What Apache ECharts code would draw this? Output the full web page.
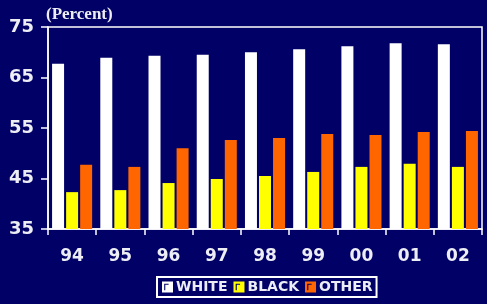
<!DOCTYPE html>
<html>
<head>
<meta charset="utf-8">
<script src="https://cdn.jsdelivr.net/npm/echarts@6/dist/echarts.min.js"></script>
<style>
  html, body { margin: 0; padding: 0; background: #000066; }
  #chart { width: 487px; height: 304px; }
</style>
</head>
<body>
<div id="chart"></div>
<script>
  // years (two digits)
  const years = ['94', '95', '96', '97', '98', '99', '00', '01', '02']
  // percent values
  const white = [67.7, 68.9, 69.3, 69.5, 70.0, 70.6, 71.2, 71.8, 71.6]
  const black = [42.3, 42.7, 44.1, 44.9, 45.5, 46.3, 47.3, 47.9, 47.3]
  const other = [47.7, 47.3, 51.0, 52.6, 53.0, 53.8, 53.6, 54.2, 54.4]
  const seriesNames = ['WHITE', 'BLACK', 'OTHER']
  const colors = ['#ffffff', '#ffff00', '#ff6600']

  // square with a small dark corner mark, like the legend keys
  const keyIcon = 'path://M0,0H10V10H0Z M2,2V8H3V3H6V2Z'

  const chart = echarts.init(document.getElementById('chart'))
  const makeBar = (name, data, i) => ({
    name: name,
    type: 'bar',
    data: data,
    barWidth: 12,
    barGap: '17%',
    itemStyle: { color: colors[i] },
    animation: false
  })

  chart.setOption({
    backgroundColor: '#000066',
    title: {
      text: '(Percent)',
      left: 41,
      top: 1,
      textStyle: {
        color: '#ededf5',
        fontFamily: 'Liberation Serif',
        fontWeight: 'bold',
        fontSize: 17
      }
    },
    grid: {
      left: 48,
      right: 5,
      top: 27,
      bottom: 75,
      show: true,
      borderColor: '#ffffff',
      borderWidth: 1.5,
      backgroundColor: 'transparent'
    },
    legend: {
      data: seriesNames,
      left: 157,
      top: 277,
      icon: keyIcon,
      itemWidth: 11,
      itemHeight: 12,
      itemGap: 6,
      padding: [3, 4, 3, 5],
      borderColor: '#ffffff',
      borderWidth: 2,
      textStyle: {
        color: '#ededf5',
        fontFamily: 'DejaVu Sans',
        fontWeight: 'bold',
        fontSize: 14,
        padding: [0, 0, 0, -2]
      }
    },
    xAxis: {
      type: 'category',
      data: years,
      axisLine: { lineStyle: { color: '#ffffff', width: 1.5 } },
      axisTick: { show: true, length: 6, lineStyle: { color: '#ffffff', width: 1.5 } },
      axisLabel: {
        color: '#ededf5',
        fontFamily: 'DejaVu Sans',
        fontWeight: 'bold',
        fontSize: 17,
        margin: 19
      }
    },
    yAxis: {
      type: 'value',
      min: 35,
      max: 75,
      interval: 10,
      splitLine: { show: false },
      axisLine: { show: true, lineStyle: { color: '#ffffff', width: 1.5 } },
      axisTick: { show: true, length: 7, lineStyle: { color: '#ffffff', width: 1.5 } },
      axisLabel: {
        color: '#ededf5',
        fontFamily: 'DejaVu Sans',
        fontWeight: 'bold',
        fontSize: 18,
        margin: 14
      }
    },
    series: [
      makeBar(seriesNames[0], white, 0),
      makeBar(seriesNames[1], black, 1),
      makeBar(seriesNames[2], other, 2)
    ]
  })
</script>
</body>
</html>
